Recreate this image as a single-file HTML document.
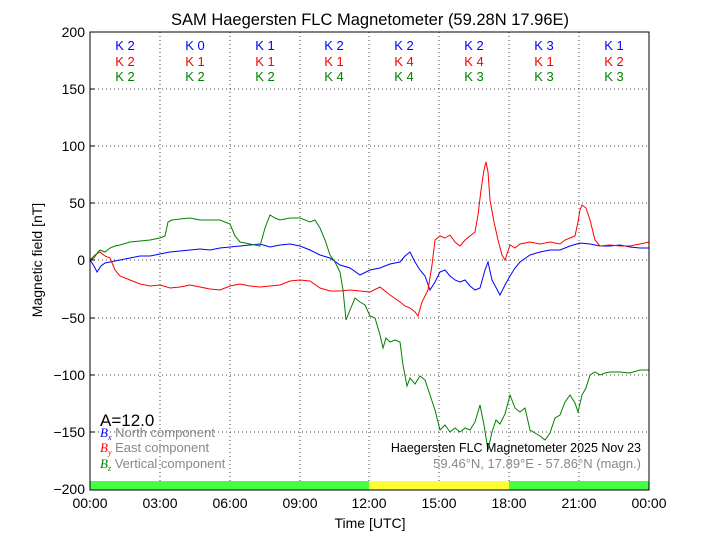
<!DOCTYPE html>
<html><head><meta charset="utf-8"><style>
body{margin:0;background:#fff}
svg{display:block;font-family:"Liberation Sans",sans-serif}
</style></head><body>
<svg width="720" height="540" viewBox="0 0 720 540">
<rect width="720" height="540" fill="#fff"/>
<text x="370" y="25" font-size="16.5" text-anchor="middle">SAM Haegersten FLC Magnetometer (59.28N 17.96E)</text>
<g stroke="#444" stroke-dasharray="1,3" stroke-width="1">
<line x1="160" y1="32" x2="160" y2="481"/><line x1="230" y1="32" x2="230" y2="481"/><line x1="300" y1="32" x2="300" y2="481"/><line x1="369" y1="32" x2="369" y2="481"/><line x1="439" y1="32" x2="439" y2="481"/><line x1="509" y1="32" x2="509" y2="481"/><line x1="579" y1="32" x2="579" y2="481"/>
<line x1="90" y1="89" x2="649" y2="89"/><line x1="90" y1="146" x2="649" y2="146"/><line x1="90" y1="203" x2="649" y2="203"/><line x1="90" y1="260" x2="649" y2="260"/><line x1="90" y1="318" x2="649" y2="318"/><line x1="90" y1="375" x2="649" y2="375"/><line x1="90" y1="432" x2="649" y2="432"/>
</g>
<rect x="90" y="481" width="279" height="9" fill="#44ff44"/>
<rect x="369" y="481" width="140" height="9" fill="#ffff33"/>
<rect x="509" y="481" width="140" height="9" fill="#44ff44"/>
<g font-size="13" text-anchor="middle">
<g fill="#0000ff"><text x="125" y="50">K 2</text><text x="195" y="50">K 0</text><text x="265" y="50">K 1</text><text x="334" y="50">K 2</text><text x="404" y="50">K 2</text><text x="474" y="50">K 2</text><text x="544" y="50">K 3</text><text x="614" y="50">K 1</text></g>
<g fill="#ff0000"><text x="125" y="66">K 2</text><text x="195" y="66">K 1</text><text x="265" y="66">K 1</text><text x="334" y="66">K 1</text><text x="404" y="66">K 4</text><text x="474" y="66">K 4</text><text x="544" y="66">K 1</text><text x="614" y="66">K 2</text></g>
<g fill="#008000"><text x="125" y="81">K 2</text><text x="195" y="81">K 2</text><text x="265" y="81">K 2</text><text x="334" y="81">K 4</text><text x="404" y="81">K 4</text><text x="474" y="81">K 3</text><text x="544" y="81">K 3</text><text x="614" y="81">K 3</text></g>
</g>
<g fill="none" stroke-width="1">
<polyline stroke="#0000ff" points="90,260 94,266 97,272 101,266 105,263 110,262 120,260 130,258 140,256 150,256 160,254 170,252 180,251 190,250 200,249 210,250 220,248 230,247 240,246 250,245 260,244 270,247 280,245 290,244 300,246 310,250 320,255 330,258 340,265 350,268 360,275 370,270 380,268 390,264 400,262 405,256 410,252 415,262 420,270 425,276 430,290 435,282 440,272 445,270 450,276 455,280 460,282 465,280 470,286 475,290 480,288 485,270 488,262 492,280 500,295 505,285 510,276 515,268 520,262 530,255 540,252 550,250 560,250 570,246 580,243 590,244 600,246 610,246 620,245 630,247 640,248 649,248"/>
<polyline stroke="#ff0000" points="90,260 95,255 100,252 105,256 110,258 115,270 120,276 130,280 140,284 150,286 160,285 170,288 180,287 190,285 200,287 210,289 220,290 230,286 240,284 250,286 260,287 270,286 280,285 290,281 300,280 310,281 320,288 330,291 340,291 350,290 360,291 370,292 380,287 390,295 400,302 405,306 410,308 415,312 418,316 422,302 428,290 432,265 435,240 440,236 445,238 450,235 455,242 460,246 465,240 470,236 475,232 478,215 481,190 484,170 486,162 488,172 490,200 494,222 498,240 502,255 505,260 510,245 515,248 520,244 530,242 540,244 550,242 560,244 565,240 570,238 575,236 578,222 580,210 582,205 586,208 590,220 595,240 600,246 610,245 620,246 630,246 640,244 649,242"/>
<polyline stroke="#008000" points="90,260 94,258 98,252 100,250 105,252 110,248 115,246 120,245 130,242 140,241 150,240 160,238 165,236 168,222 172,220 180,219 190,218 200,220 210,220 220,220 230,224 235,236 240,242 250,244 260,246 265,228 270,215 275,218 280,220 290,218 300,218 310,222 315,220 320,228 325,240 330,255 335,262 340,272 343,290 346,320 350,310 355,298 360,302 365,305 370,316 375,318 380,335 383,348 386,338 390,342 395,340 400,342 403,365 407,386 410,378 415,384 420,376 425,380 430,395 435,410 440,430 445,425 450,432 455,428 460,432 465,428 470,430 475,422 480,405 484,425 488,450 492,432 496,420 500,424 505,414 510,395 515,408 520,412 525,408 530,430 535,433 540,436 545,440 550,433 555,418 560,415 565,402 570,395 575,403 578,412 582,395 586,388 590,375 595,372 600,375 605,373 610,372 620,372 630,373 640,370 649,370"/>
</g>
<rect x="90" y="32" width="559" height="458" fill="none" stroke="#000" stroke-width="1"/>
<g stroke="#000"><line x1="90" y1="89" x2="95" y2="89"/><line x1="90" y1="146" x2="95" y2="146"/><line x1="90" y1="203" x2="95" y2="203"/><line x1="90" y1="260" x2="95" y2="260"/><line x1="90" y1="318" x2="95" y2="318"/><line x1="90" y1="375" x2="95" y2="375"/><line x1="90" y1="432" x2="95" y2="432"/></g>
<g font-size="14" text-anchor="end">
<text x="85" y="37">200</text><text x="85" y="94">150</text><text x="85" y="151">100</text><text x="85" y="208">50</text><text x="85" y="265">0</text><text x="85" y="323">−50</text><text x="85" y="380">−100</text><text x="85" y="437">−150</text><text x="85" y="494">−200</text>
</g>
<g font-size="14" text-anchor="middle">
<text x="90" y="508">00:00</text><text x="160" y="508">03:00</text><text x="230" y="508">06:00</text><text x="300" y="508">09:00</text><text x="369" y="508">12:00</text><text x="439" y="508">15:00</text><text x="509" y="508">18:00</text><text x="579" y="508">21:00</text><text x="649" y="508">00:00</text>
<text x="370" y="528">Time [UTC]</text>
</g>
<text x="0" y="0" font-size="14" text-anchor="middle" transform="translate(42,260) rotate(-90)">Magnetic field [nT]</text>
<text x="100" y="426" font-size="17">A=12.0</text>
<g font-size="13" fill="#888">
<text x="100" y="437"><tspan fill="#0000ff" font-family="Liberation Serif" font-style="italic">B<tspan font-size="8" dy="3">x</tspan></tspan><tspan dy="-3"> North component</tspan></text>
<text x="100" y="452"><tspan fill="#ff0000" font-family="Liberation Serif" font-style="italic">B<tspan font-size="8" dy="3">y</tspan></tspan><tspan dy="-3"> East component</tspan></text>
<text x="100" y="468"><tspan fill="#008000" font-family="Liberation Serif" font-style="italic">B<tspan font-size="8" dy="3">z</tspan></tspan><tspan dy="-3"> Vertical component</tspan></text>
<text x="641" y="468" text-anchor="end">59.46°N, 17.89°E - 57.86°N (magn.)</text>
</g>
<text x="641" y="452" font-size="12.5" text-anchor="end">Haegersten FLC Magnetometer 2025 Nov 23</text>
</svg>
</body></html>
